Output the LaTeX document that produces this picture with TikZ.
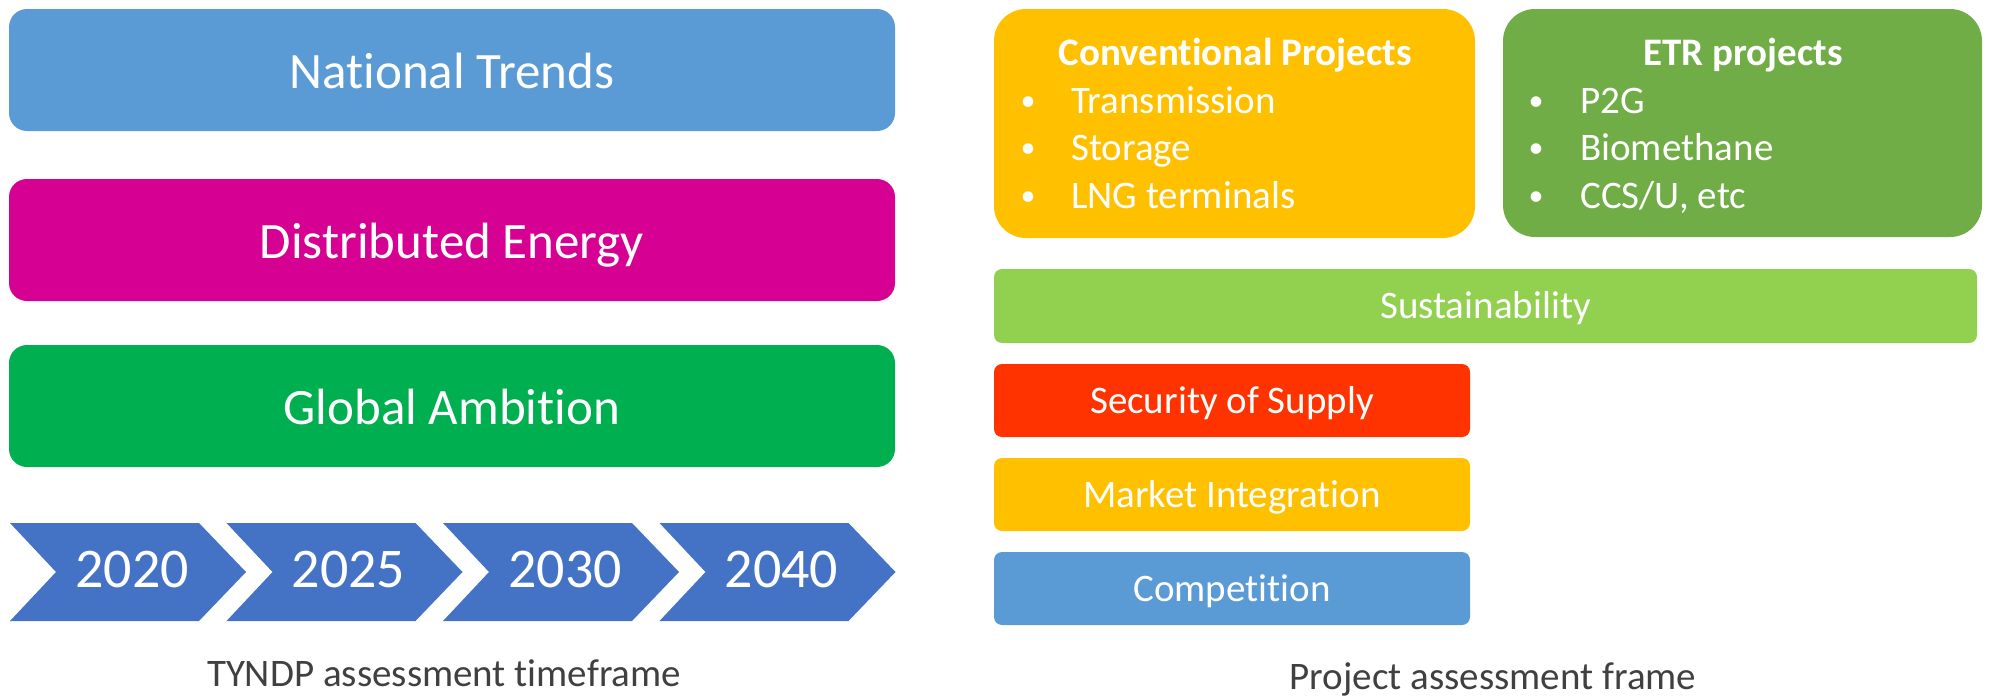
\documentclass[tikz,border=0pt]{standalone}
\usepackage{fontspec}
\setmainfont{Carlito}[Ligatures=NoCommon]
\definecolor{ntblue}{HTML}{5B9BD5}
\definecolor{demag}{HTML}{D60093}
\definecolor{gagreen}{HTML}{00B050}
\definecolor{chevblue}{HTML}{4472C4}
\definecolor{orng}{HTML}{FFC000}
\definecolor{etrgreen}{HTML}{70AD47}
\definecolor{susgreen}{HTML}{92D050}
\definecolor{secred}{HTML}{FF3300}
\definecolor{capgray}{HTML}{404040}
\tikzset{
  bigbox/.style={rectangle, rounded corners=18pt, inner sep=0pt, outer sep=0pt,
    minimum width=886pt, minimum height=122pt, text=white,
    font=\fontsize{51}{60}\selectfont, text height=37pt, text depth=0pt},
  crit/.style={rectangle, rounded corners=8pt, inner sep=0pt, outer sep=0pt,
    minimum width=476pt, minimum height=73pt, text=white,
    font=\fontsize{39}{46}\selectfont, text height=25pt, text depth=0pt},
  projbox/.style={rectangle, rounded corners=32pt, inner sep=0pt, outer sep=0pt},
  yeartxt/.style={text=white, font=\fontsize{56}{64}\selectfont, anchor=base, inner sep=0pt},
  wtxt/.style={text=white, font=\fontsize{39}{46}\selectfont, anchor=base, inner sep=0pt},
  wtitle/.style={text=white, font=\fontsize{39}{46}\selectfont\bfseries, anchor=base, inner sep=0pt},
  bul/.style={text=white, font=\fontsize{30}{36}\selectfont, anchor=base, inner sep=0pt},
  captxt/.style={text=capgray, font=\fontsize{39}{46}\selectfont, anchor=base, inner sep=0pt},
}
\begin{document}
\begin{tikzpicture}[x=1pt,y=-1pt]
\useasboundingbox (0,0) rectangle (1990,696);
% left scenario boxes
\node[bigbox, fill=ntblue] (nt) at (452,70) {National Trends};
\node[bigbox, fill=demag] (de) at (452,240) {Distributed Energy};
\node[bigbox, fill=gagreen] (ga) at (452,406) {Global Ambition};
% chevrons
\foreach \i/\yr in {0/2020,1/2025,2/2030,3/2040}{
  \pgfmathsetmacro{\xa}{10+216.5*\i}
  \fill[chevblue] (\xa,523) -- ++(189,0) -- ++(47,49) -- ++(-47,49) -- ++(-189,0) -- ++(46,-49) -- cycle;
  \node[yeartxt] (y\yr) at (\xa+122,587) {\yr};
}
\node[captxt] (tcap) at (444,686) {TYNDP assessment timeframe};
% project boxes
\node[projbox, fill=orng, minimum width=481pt, minimum height=229pt] (conv) at (1234.5,123.5) {};
\node[projbox, fill=etrgreen, minimum width=479pt, minimum height=228pt] (etr) at (1742.5,123) {};
\node[wtitle] (convt) at (1235,65) {Conventional Projects};
\node[bul] (cb1) at (1028,110) {•};
\node[bul] (cb2) at (1028,157) {•};
\node[bul] (cb3) at (1028,205) {•};
\node[wtxt, anchor=base west] (c1) at (1071,113) {Transmission};
\node[wtxt, anchor=base west] (c2) at (1071,160) {Storage};
\node[wtxt, anchor=base west] (c3) at (1071,208) {LNG terminals};
\node[wtitle] (etrt) at (1743,65) {ETR projects};
\node[bul] (eb1) at (1536,110) {•};
\node[bul] (eb2) at (1536,157) {•};
\node[bul] (eb3) at (1536,205) {•};
\node[wtxt, anchor=base west] (e1) at (1580,113) {P2G};
\node[wtxt, anchor=base west] (e2) at (1580,160) {Biomethane};
\node[wtxt, anchor=base west] (e3) at (1580,208) {CCS/U, etc};
% criteria
\node[crit, fill=susgreen, minimum width=983pt, minimum height=74pt] (sus) at (1485.5,306) {Sustainability};
\node[crit, fill=secred] (sec) at (1232,400.5) {Security of Supply};
\node[crit, fill=orng] (mi) at (1232,494.5) {Market Integration};
\node[crit, fill=ntblue] (comp) at (1232,588.5) {Competition};
\node[captxt] (pcap) at (1493,689) {Project assessment frame};
\end{tikzpicture}
\end{document}
